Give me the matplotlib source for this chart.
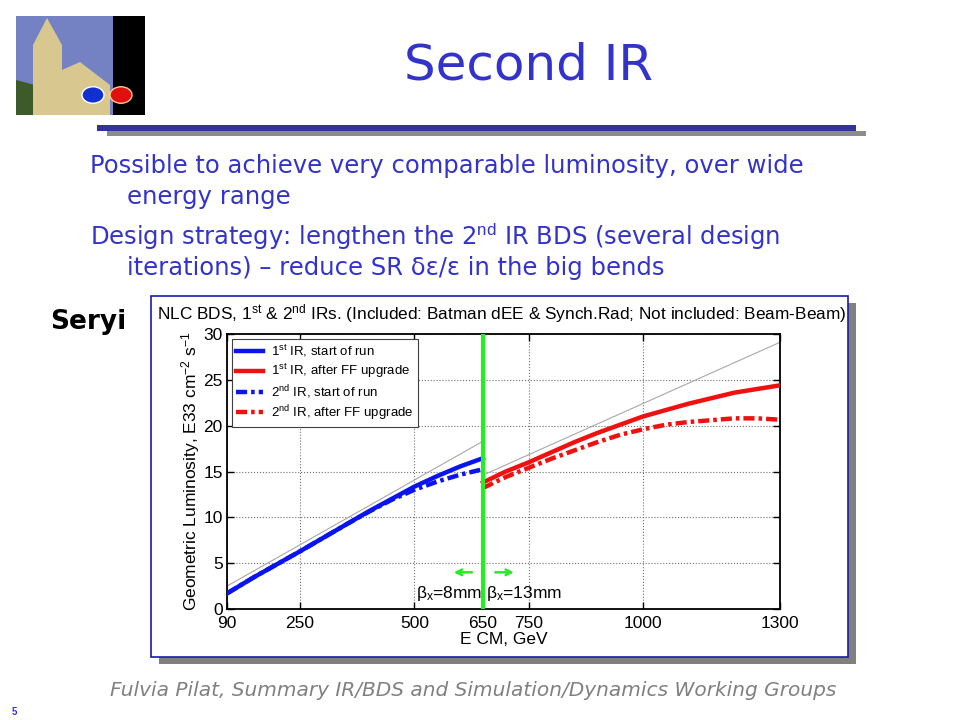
import matplotlib
matplotlib.use("Agg")
import matplotlib.pyplot as plt
from matplotlib.patches import Rectangle, Circle, Polygon

plt.rcParams['font.family'] = ['Liberation Sans', 'DejaVu Sans']
plt.rcParams['mathtext.fontset'] = 'custom'
plt.rcParams['mathtext.rm'] = 'Liberation Sans'
plt.rcParams['mathtext.it'] = 'Liberation Sans:italic'
plt.rcParams['mathtext.bf'] = 'Liberation Sans:bold'

# ---- data ----
e_low = [90, 150, 200, 250, 300, 350, 400, 450, 500, 550, 600, 650]
ir1_start = [1.7, 3.5, 4.9, 6.3, 7.75, 9.2, 10.65, 12.0, 13.35, 14.5, 15.55, 16.45]
ir2_start = [1.7, 3.5, 4.9, 6.3, 7.75, 9.2, 10.6, 11.9, 13.0, 13.9, 14.65, 15.25]

e_high = [650, 700, 750, 800, 850, 900, 950, 1000, 1050, 1100, 1150, 1200, 1250, 1300]
ir1_upg = [13.8, 15.0, 16.0, 17.1, 18.2, 19.2, 20.1, 21.0, 21.7, 22.4, 23.0, 23.6, 24.0, 24.4]
ir2_upg = [13.2, 14.4, 15.4, 16.4, 17.3, 18.2, 19.0, 19.6, 20.1, 20.4, 20.6, 20.8, 20.8, 20.65]

# thin grey reference lines (linear scaling)
ref_low_e = [90, 650]
ref_low_l = [2.5, 18.3]
ref_high_e = [650, 1300]
ref_high_l = [14.6, 29.1]

e_switch = 650
xticks = [90, 250, 500, 650, 750, 1000, 1300]
yticks = [0, 5, 10, 15, 20, 25, 30]
arrow_y = 4.0
arrow_left = (632, 580)
arrow_right = (671, 724)

labels = [r'1$^{\rm st}$ IR, start of run',
          r'1$^{\rm st}$ IR, after FF upgrade',
          r'2$^{\rm nd}$ IR, start of run',
          r'2$^{\rm nd}$ IR, after FF upgrade']

W, H = 960, 720
slide_blue = '#3333cc'
green = '#22ee22'
slide_font = ['DejaVu Sans']


def fx(x):
    return x / W


def fy(y):
    return 1 - y / H


def box(x0, y0, x1, y1, **kw):
    # rectangle in pixel coords (top-left origin)
    return Rectangle((fx(x0), fy(y1)), (x1 - x0) / W, (y1 - y0) / H,
                     transform=fig.transFigure, **kw)


fig = plt.figure(figsize=(9.6, 7.2), dpi=100)

# ---- slide decoration ----
# logo
fig.patches.append(box(16, 16, 113, 115, facecolor='#7482c4', edgecolor='none'))
fig.patches.append(box(113, 16, 145, 115, facecolor='black', edgecolor='none'))
fig.patches.append(Polygon([(fx(16), fy(115)), (fx(16), fy(80)), (fx(35), fy(85)),
                            (fx(45), fy(115))], closed=True, transform=fig.transFigure,
                           facecolor='#3d5a2a', edgecolor='none'))
fig.patches.append(Polygon([(fx(33), fy(115)), (fx(33), fy(45)), (fx(47), fy(18)),
                            (fx(62), fy(45)), (fx(62), fy(70)), (fx(80), fy(62)),
                            (fx(110), fy(85)), (fx(110), fy(115))], closed=True,
                           transform=fig.transFigure, facecolor='#d8c890', edgecolor='none'))
fig.patches.append(Circle((fx(93), fy(95)), 11 / W, transform=fig.transFigure,
                          facecolor='#1030d0', edgecolor='white', lw=1))
fig.patches.append(Circle((fx(121), fy(95)), 11 / W, transform=fig.transFigure,
                          facecolor='#e01010', edgecolor='#ffcc88', lw=1))

# title bar
fig.patches.append(box(107, 131, 866, 136, facecolor='#8c8c8c', edgecolor='none'))
fig.patches.append(box(97, 125, 856, 131, facecolor='#333399', edgecolor='none'))

fig.text(fx(528), fy(66), 'Second IR', color=slide_blue, fontsize=36,
         family=slide_font, ha='center', va='center')

fig.text(fx(90), fy(166), 'Possible to achieve very comparable luminosity, over wide',
         color=slide_blue, fontsize=17.5, family=slide_font, va='center')
fig.text(fx(127), fy(197), 'energy range', color=slide_blue, fontsize=17.5,
         family=slide_font, va='center')
fig.text(fx(90), fy(237), 'Design strategy: lengthen the 2$^{\\rm nd}$ IR BDS (several design',
         color=slide_blue, fontsize=17.5, family=slide_font, va='center')
fig.text(fx(127), fy(268), 'iterations) \u2013 reduce SR \u03b4\u03b5/\u03b5 in the big bends',
         color=slide_blue, fontsize=17.5, family=slide_font, va='center')

fig.text(fx(50), fy(322), 'Seryi', fontsize=19, fontweight='bold',
         family=slide_font, va='center')

fig.text(fx(473), fy(690),
         'Fulvia Pilat, Summary IR/BDS and Simulation/Dynamics Working Groups',
         color='#808080', fontsize=14.5, style='italic', family=slide_font,
         ha='center', va='center')
fig.text(fx(12), fy(712), '5', color=slide_blue, fontsize=7, fontweight='bold',
         va='center')

# chart panel with shadow
fig.patches.append(box(159, 303, 856, 664, facecolor='#808080', edgecolor='none', zorder=-2))
fig.patches.append(box(151, 296, 848, 657, facecolor='white', edgecolor='#1a1aaa',
                       lw=1.2, zorder=-1))

fig.text(fx(502), fy(314),
         r'NLC BDS, 1$^{\rm st}$ & 2$^{\rm nd}$ IRs. (Included: Batman dEE & Synch.Rad; '
         r'Not included: Beam-Beam)', fontsize=12.4, ha='center', va='center')

# ---- the plot ----
ax = fig.add_axes([fx(227), fy(609), (780 - 227) / W, (609 - 334) / H])

ax.plot(ref_low_e, ref_low_l, color='#a8a8a8', lw=0.8, zorder=2)
ax.plot(ref_high_e, ref_high_l, color='#a8a8a8', lw=0.8, zorder=2)

dd = (2.5, 0.9, 0.8, 0.9)
ax.plot(e_low, ir1_start, color='#0a14f0', lw=3.2, label=labels[0], zorder=3)
ax.plot(e_high, ir1_upg, color='#f01010', lw=3.2, label=labels[1], zorder=3)
ax.plot(e_low, ir2_start, color='#0a14f0', lw=3.2, dashes=dd, label=labels[2], zorder=3)
ax.plot(e_high, ir2_upg, color='#f01010', lw=3.2, dashes=dd, label=labels[3], zorder=3)

ax.axvline(e_switch, color=green, lw=3, zorder=4)
ax.annotate('', xy=(arrow_left[1], arrow_y), xytext=(arrow_left[0], arrow_y),
            arrowprops=dict(arrowstyle='->', color=green, lw=1.8))
ax.annotate('', xy=(arrow_right[1], arrow_y), xytext=(arrow_right[0], arrow_y),
            arrowprops=dict(arrowstyle='->', color=green, lw=1.8))
ax.text(504, 1.2, '\u03b2$_{\\rm x}$=8mm', fontsize=12.5)
ax.text(657, 1.2, '\u03b2$_{\\rm x}$=13mm', fontsize=12.5)

ax.set_xlim(90, 1300)
ax.set_ylim(0, 30)
ax.set_xticks(xticks)
ax.set_yticks(yticks)
ax.tick_params(direction='in', length=5, width=1, labelsize=12.5,
               top=True, right=True)
ax.tick_params(axis='x', pad=5)
ax.tick_params(axis='y', pad=3)
ax.grid(True, linestyle=':', color='#707070', lw=0.8)
for s in ax.spines.values():
    s.set_linewidth(1.3)

ax.set_xlabel('E CM, GeV', fontsize=12.5, labelpad=1)
ax.set_ylabel(r'Geometric Luminosity, E33 cm$^{-2}$ s$^{-1}$', fontsize=12.5, labelpad=1)

leg = ax.legend(loc='upper left', fontsize=9.5, handlelength=2.0, handletextpad=0.6,
                borderaxespad=0.35, fancybox=False, framealpha=1, labelspacing=0.2,
                borderpad=0.35)
leg.get_frame().set_edgecolor('#404040')
leg.get_frame().set_linewidth(0.8)

fig.savefig('out.png', dpi=100)
